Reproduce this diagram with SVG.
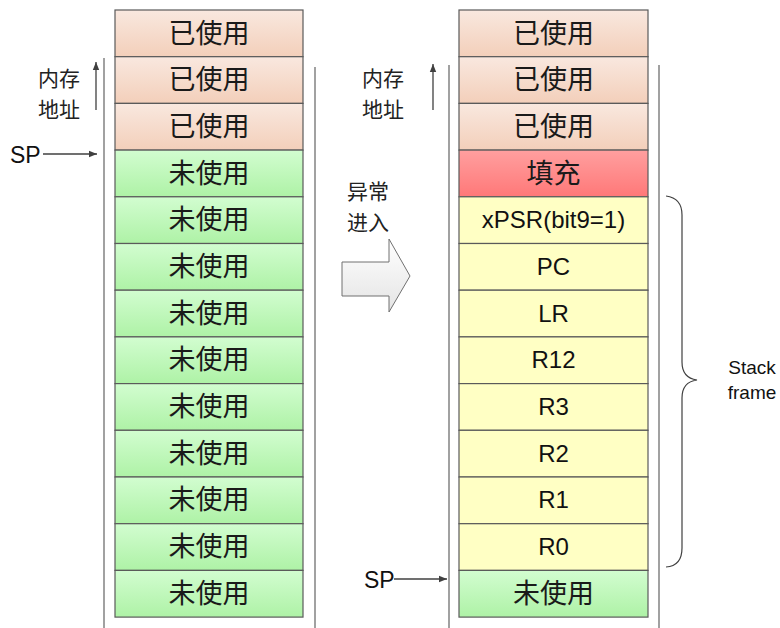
<svg xmlns="http://www.w3.org/2000/svg" width="780" height="628" viewBox="0 0 780 628">
<defs>
<linearGradient id="gUsed" x1="0" y1="0" x2="0" y2="1"><stop offset="0" stop-color="#f9e8df"/><stop offset="1" stop-color="#f3cfba"/></linearGradient>
<linearGradient id="gFree" x1="0" y1="0" x2="0" y2="1"><stop offset="0" stop-color="#d2fdd0"/><stop offset="1" stop-color="#aef2a6"/></linearGradient>
<linearGradient id="gFill" x1="0" y1="0" x2="0" y2="1"><stop offset="0" stop-color="#ff9f9f"/><stop offset="1" stop-color="#ff7878"/></linearGradient>
<linearGradient id="gArrow" x1="0" y1="0" x2="0" y2="1"><stop offset="0" stop-color="#ffffff"/><stop offset="1" stop-color="#e4e4e4"/></linearGradient>
<marker id="ah" viewBox="0 0 10 10" refX="10" refY="5" markerWidth="8" markerHeight="8" markerUnits="userSpaceOnUse" orient="auto"><path d="M0,1 L10,5 L0,9 z" fill="#404040"/></marker>
</defs>
<style>
.used{fill:url(#gUsed);stroke:#5a5a5a;stroke-width:1.2}
.free{fill:url(#gFree);stroke:#5a5a5a;stroke-width:1.2}
.fill{fill:url(#gFill);stroke:#5a5a5a;stroke-width:1.2}
.reg{fill:#ffffc4;stroke:#5a5a5a;stroke-width:1.2}
.cn{font-family:"Noto Sans CJK SC","Noto Sans CJK JP",sans-serif;font-size:27px;fill:#1a1a1a;text-anchor:middle}
.en{font-family:"Liberation Sans",Arial,sans-serif;font-size:24px;fill:#111;text-anchor:middle}
.lbl{font-family:"Noto Sans CJK SC",sans-serif;font-size:21px;fill:#222}
.sp{font-family:"Liberation Sans",Arial,sans-serif;font-size:23px;fill:#111}
.wall{stroke:#8a8a8a;stroke-width:1.6;fill:none}
.conn{stroke:#404040;stroke-width:1.3;fill:none}
</style>
<g id="walls">
<line class="wall" x1="104" y1="58" x2="104" y2="628"/>
<line class="wall" x1="315" y1="67" x2="315" y2="628"/>
<line class="wall" x1="449" y1="65" x2="449" y2="628"/>
<line class="wall" x1="659" y1="65" x2="659" y2="628"/>
</g>
<g id="left-stack">
<g id="L0"><rect class="used" x="115" y="10" width="188" height="46.7"/><text class="cn" x="209" y="43">已使用</text></g>
<g id="L1"><rect class="used" x="115" y="56.7" width="188" height="46.7"/><text class="cn" x="209" y="89">已使用</text></g>
<g id="L2"><rect class="used" x="115" y="103.4" width="188" height="46.7"/><text class="cn" x="209" y="136">已使用</text></g>
<g id="L3"><rect class="free" x="115" y="150.1" width="188" height="46.7"/><text class="cn" x="209" y="183">未使用</text></g>
<g id="L4"><rect class="free" x="115" y="196.8" width="188" height="46.7"/><text class="cn" x="209" y="229">未使用</text></g>
<g id="L5"><rect class="free" x="115" y="243.5" width="188" height="46.7"/><text class="cn" x="209" y="276">未使用</text></g>
<g id="L6"><rect class="free" x="115" y="290.2" width="188" height="46.7"/><text class="cn" x="209" y="323">未使用</text></g>
<g id="L7"><rect class="free" x="115" y="336.9" width="188" height="46.7"/><text class="cn" x="209" y="369">未使用</text></g>
<g id="L8"><rect class="free" x="115" y="383.6" width="188" height="46.7"/><text class="cn" x="209" y="416">未使用</text></g>
<g id="L9"><rect class="free" x="115" y="430.3" width="188" height="46.7"/><text class="cn" x="209" y="463">未使用</text></g>
<g id="L10"><rect class="free" x="115" y="477" width="188" height="46.7"/><text class="cn" x="209" y="509">未使用</text></g>
<g id="L11"><rect class="free" x="115" y="523.7" width="188" height="46.7"/><text class="cn" x="209" y="556">未使用</text></g>
<g id="L12"><rect class="free" x="115" y="570.4" width="188" height="46.7"/><text class="cn" x="209" y="603">未使用</text></g>
</g>
<g id="right-stack">
<g id="R0n"><rect class="used" x="459" y="10" width="189" height="46.7"/><text class="cn" x="553.5" y="43">已使用</text></g>
<g id="R1n"><rect class="used" x="459" y="56.7" width="189" height="46.7"/><text class="cn" x="553.5" y="89">已使用</text></g>
<g id="R2n"><rect class="used" x="459" y="103.4" width="189" height="46.7"/><text class="cn" x="553.5" y="136">已使用</text></g>
<g id="R3n"><rect class="fill" x="459" y="150.1" width="189" height="46.7"/><text class="cn" x="553.5" y="183">填充</text></g>
<g id="R4n"><rect class="reg" x="459" y="196.8" width="189" height="46.7"/><text class="en" x="553.5" y="228">xPSR(bit9=1)</text></g>
<g id="R5n"><rect class="reg" x="459" y="243.5" width="189" height="46.7"/><text class="en" x="553.5" y="275">PC</text></g>
<g id="R6n"><rect class="reg" x="459" y="290.2" width="189" height="46.7"/><text class="en" x="553.5" y="322">LR</text></g>
<g id="R7n"><rect class="reg" x="459" y="336.9" width="189" height="46.7"/><text class="en" x="553.5" y="368">R12</text></g>
<g id="R8n"><rect class="reg" x="459" y="383.6" width="189" height="46.7"/><text class="en" x="553.5" y="415">R3</text></g>
<g id="R9n"><rect class="reg" x="459" y="430.3" width="189" height="46.7"/><text class="en" x="553.5" y="462">R2</text></g>
<g id="R10n"><rect class="reg" x="459" y="477" width="189" height="46.7"/><text class="en" x="553.5" y="508">R1</text></g>
<g id="R11n"><rect class="reg" x="459" y="523.7" width="189" height="46.7"/><text class="en" x="553.5" y="555">R0</text></g>
<g id="R12n"><rect class="free" x="459" y="570.4" width="189" height="46.7"/><text class="cn" x="553.5" y="603">未使用</text></g>
</g>
<g id="labels">
<text class="lbl" x="38" y="86">内存</text>
<text class="lbl" x="38" y="117">地址</text>
<text class="sp" x="10" y="163">SP</text>
<text class="lbl" x="362" y="86">内存</text>
<text class="lbl" x="362" y="117">地址</text>
<text class="lbl" x="347" y="199">异常</text>
<text class="lbl" x="347" y="230">进入</text>
<text class="sp" x="364" y="588">SP</text>
<text class="sp" x="752" y="374" style="font-size:19px;text-anchor:middle">Stack</text>
<text class="sp" x="752" y="399" style="font-size:19px;text-anchor:middle">frame</text>
</g>
<g id="connectors">
<line class="conn" x1="96" y1="110" x2="96" y2="62" marker-end="url(#ah)"/>
<line class="conn" x1="43" y1="154" x2="97" y2="154" marker-end="url(#ah)"/>
<line class="conn" x1="433" y1="110" x2="433" y2="64" marker-end="url(#ah)"/>
<line class="conn" x1="394" y1="579" x2="447" y2="579" marker-end="url(#ah)"/>
<path d="M342,262 L389,262 L389,239 L410,276 L389,312 L389,296 L342,296 Z" fill="url(#gArrow)" stroke="#707070" stroke-width="1"/>
<path d="M666,196 Q682,198 682,215 L682,362 Q682,378 697,380 Q682,382 682,398 L682,548 Q682,566 666,567" fill="none" stroke="#404040" stroke-width="1.2"/>
</g>
</svg>
